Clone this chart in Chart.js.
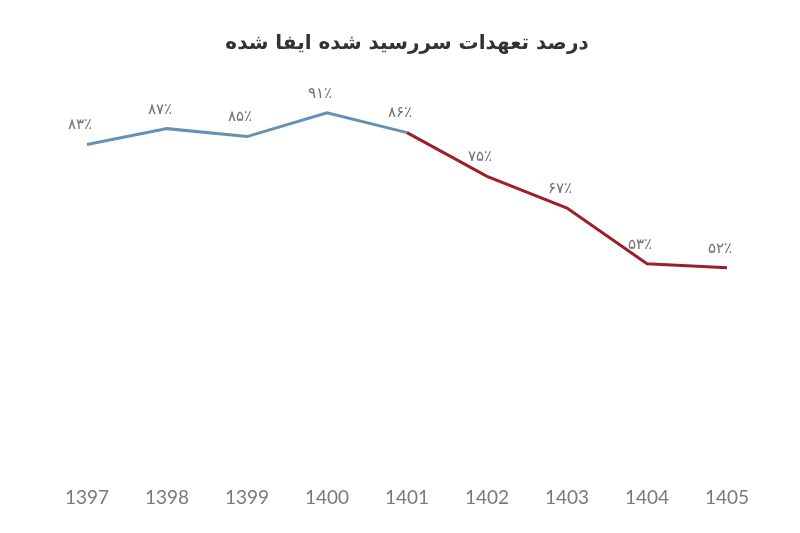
<!DOCTYPE html>
<html>
<head>
<meta charset="utf-8">
<script src="https://cdn.jsdelivr.net/npm/chart.js@4/dist/chart.umd.min.js"></script>
<style>
html,body{margin:0;padding:0;background:#fff;}
#wrap{width:800px;height:533px;}
</style>
</head>
<body>
<div id="wrap"><canvas id="c" width="800" height="533"></canvas></div>
<script>
const titleText = 'درصد تعهدات سررسید شده ایفا شده';
const years = ['1397','1398','1399','1400','1401','1402','1403','1404','1405'];
const percentValues = [83, 87, 85, 91, 86, 75, 67, 53, 52];
const splitIndex = 4; // segments starting at this index are red
const blueColor = '#6790b5';
const redColor = '#9c1f2a';

function toPersianDigits(n){
  const d = '۰۱۲۳۴۵۶۷۸۹';
  return String(n).replace(/[0-9]/g, c => d[+c]);
}

const labelPlugin = {
  id: 'pointLabels',
  afterDatasetsDraw(chart){
    const ctx = chart.ctx;
    const meta = chart.getDatasetMeta(0);
    ctx.save();
    ctx.font = '15px "DejaVu Sans"';
    ctx.fillStyle = '#707070';
    ctx.textAlign = 'center';
    ctx.textBaseline = 'middle';
    meta.data.forEach((pt, i) => {
      ctx.fillText(toPersianDigits(percentValues[i]) + '٪', pt.x - 7, pt.y - 19);
    });
    ctx.restore();
  }
};

new Chart(document.getElementById('c'), {
  type: 'line',
  data: {
    labels: years,
    datasets: [{
      data: percentValues,
      borderColor: blueColor,
      borderWidth: 3,
      pointRadius: 0,
      tension: 0,
      fill: false,
      segment: {
        borderColor: ctx => ctx.p0DataIndex >= splitIndex ? redColor : blueColor
      }
    }]
  },
  options: {
    responsive: false,
    animation: false,
    layout: { padding: { left: 87, right: 73, top: 0, bottom: 20 } },
    plugins: {
      legend: { display: false },
      tooltip: { enabled: false },
      title: {
        display: true,
        text: titleText,
        color: '#333333',
        font: { family: 'DejaVu Sans', size: 20, weight: 'bold', lineHeight: 1.2 },
        padding: { top: 32, bottom: 21 }
      }
    },
    scales: {
      x: {
        offset: false,
        grid: { display: false },
        border: { display: false },
        ticks: {
          color: '#7a7a7a',
          padding: 4,
          font: { family: 'Lato', size: 19 }
        }
      },
      y: {
        display: false,
        min: 0,
        max: 100
      }
    }
  },
  plugins: [labelPlugin]
});
</script>
</body>
</html>
